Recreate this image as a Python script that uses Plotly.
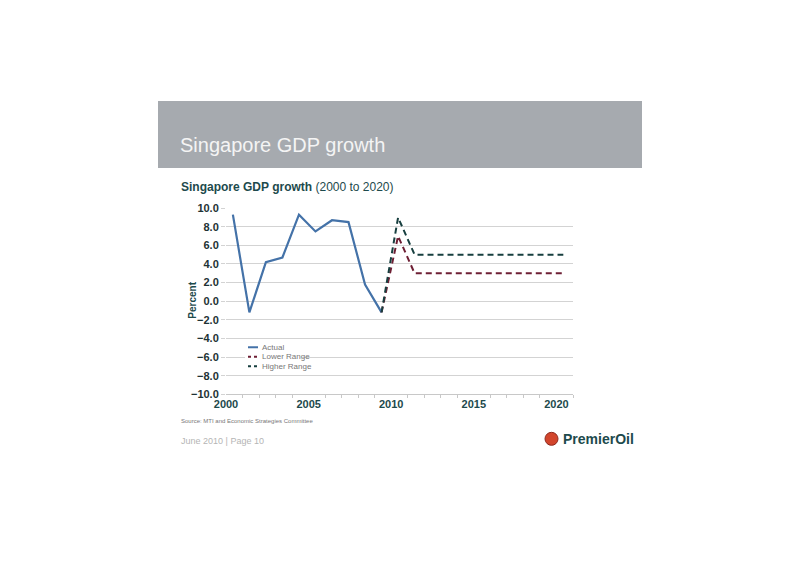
import plotly.graph_objects as go

# data
actual_years = list(range(2000, 2010))
actual_growth = [9.3, -1.2, 4.2, 4.7, 9.3, 7.5, 8.7, 8.5, 1.8, -1.2]

forecast_years = list(range(2009, 2021))
lower_range = [-1.2, 7.0, 3.0, 3.0, 3.0, 3.0, 3.0, 3.0, 3.0, 3.0, 3.0, 3.0]
higher_range = [-1.2, 9.0, 5.0, 5.0, 5.0, 5.0, 5.0, 5.0, 5.0, 5.0, 5.0, 5.0]

y_ticks = [-10, -8, -6, -4, -2, 0, 2, 4, 6, 8, 10]

legend_names = ["Actual", "Lower Range", "Higher Range"]
legend_colors = ["#4472a8", "#6e1f34", "#173f3f"]
legend_dash = ["solid", "dot", "dot"]

TEAL = "#1d4a4c"
FONT = "Liberation Sans"
W, H = 800, 565

# the page shows the figure slightly shifted and shrunk; positions below are
# screen pixels, converted to paper fractions here
OFF_X, OFF_Y = 20, 14
SC_X, SC_Y = 0.985, 0.978


def mid_year(years):
    # points sit inside each year's slot, not on the tick
    return [f"{y}-06-01" for y in years]


def px(x):
    return (x - OFF_X) / SC_X / W


def py(y):
    return 1 - (y - OFF_Y) / SC_Y / H


fig = go.Figure()
fig.add_trace(go.Scatter(x=mid_year(actual_years), y=actual_growth, name="Actual",
                         mode="lines", line=dict(color=legend_colors[0], width=2.2)))
fig.add_trace(go.Scatter(x=mid_year(forecast_years), y=lower_range, name="Lower Range",
                         mode="lines", line=dict(color=legend_colors[1], width=2, dash="6px,4px")))
fig.add_trace(go.Scatter(x=mid_year(forecast_years), y=higher_range, name="Higher Range",
                         mode="lines", line=dict(color=legend_colors[2], width=2, dash="6px,4px")))

fig.update_layout(
    width=W, height=H,
    margin=dict(l=0, r=0, t=0, b=0),
    paper_bgcolor="white", plot_bgcolor="white",
    font=dict(family=FONT, color=TEAL),
    showlegend=False,
    xaxis=dict(domain=[px(226), px(573)], type="date",
               range=["2000-01-01", "2021-01-01"],
               tick0="2000-01-01", dtick="M60", tickformat="%Y",
               ticks="", showgrid=False, showline=True, linecolor="#c8c8c8",
               tickfont=dict(size=11, color=TEAL, weight="bold"),
               minor=dict(ticks="outside", dtick="M12", ticklen=3, tickcolor="#c8c8c8"),
               fixedrange=True),
    yaxis=dict(domain=[py(394), py(208)], range=[-10, 10],
               tickvals=y_ticks, tickformat=".1f",
               showgrid=True, gridcolor="#d3d3d3", gridwidth=1,
               zeroline=False, ticks="outside", ticklen=4, tickcolor="#d3d3d3",
               tickfont=dict(size=11, color="#1e3234", weight="bold"),
               fixedrange=True),
)

# grey header band
fig.add_shape(type="rect", xref="paper", yref="paper",
              x0=px(158), x1=px(642), y0=py(168), y1=py(101),
              fillcolor="#a6aaaf", line=dict(width=0), layer="below")
fig.add_annotation(text="Singapore GDP growth", xref="paper", yref="paper",
                   x=px(178), y=py(145), xanchor="left", yanchor="middle",
                   showarrow=False, font=dict(size=20, color="#f4f4f4", family=FONT))

fig.add_annotation(text="<b>Singapore GDP growth</b> (2000 to 2020)", xref="paper", yref="paper",
                   x=px(179), y=py(187), xanchor="left", yanchor="middle",
                   showarrow=False, font=dict(size=12, color=TEAL, family=FONT))

fig.add_annotation(text="<b>Percent</b>", xref="paper", yref="paper",
                   x=px(185), y=py(300), textangle=-90,
                   showarrow=False, font=dict(size=10, color=TEAL, family=FONT))

# legend drawn by hand so rows can sit close together
fig.add_shape(type="rect", xref="paper", yref="paper",
              x0=px(245), x1=px(302), y0=py(371), y1=py(342),
              fillcolor="white", line=dict(width=0), layer="above")
for i, name in enumerate(legend_names):
    ly = 347 + i * 9.5
    fig.add_shape(type="line", xref="paper", yref="paper",
                  x0=px(248), x1=px(258), y0=py(ly), y1=py(ly), layer="above",
                  line=dict(color=legend_colors[i], width=2, dash=legend_dash[i]))
    fig.add_annotation(text=name, xref="paper", yref="paper",
                       x=px(260), y=py(ly), xanchor="left", yanchor="middle",
                       showarrow=False, font=dict(size=8, color="#777777", family=FONT))

fig.add_annotation(text="Source: MTI and Economic Strategies Committee", xref="paper", yref="paper",
                   x=px(179), y=py(421), xanchor="left", yanchor="middle",
                   showarrow=False, font=dict(size=6, color="#777777", family=FONT))

fig.add_annotation(text="June 2010 | Page 10", xref="paper", yref="paper",
                   x=px(179), y=py(441), xanchor="left", yanchor="middle",
                   showarrow=False, font=dict(size=9, color="#b5b5b5", family=FONT))

# PremierOil logo
fig.add_shape(type="circle", xref="paper", yref="paper",
              x0=px(545), x1=px(558), y0=py(445), y1=py(432),
              fillcolor="#d2452c", line=dict(color="#8e2a1f", width=1))
fig.add_annotation(text="PremierOil", xref="paper", yref="paper",
                   x=px(561), y=py(439), xanchor="left", yanchor="middle",
                   showarrow=False, font=dict(size=14, color=TEAL, family=FONT, weight="bold"))

fig.write_html("out.html")
